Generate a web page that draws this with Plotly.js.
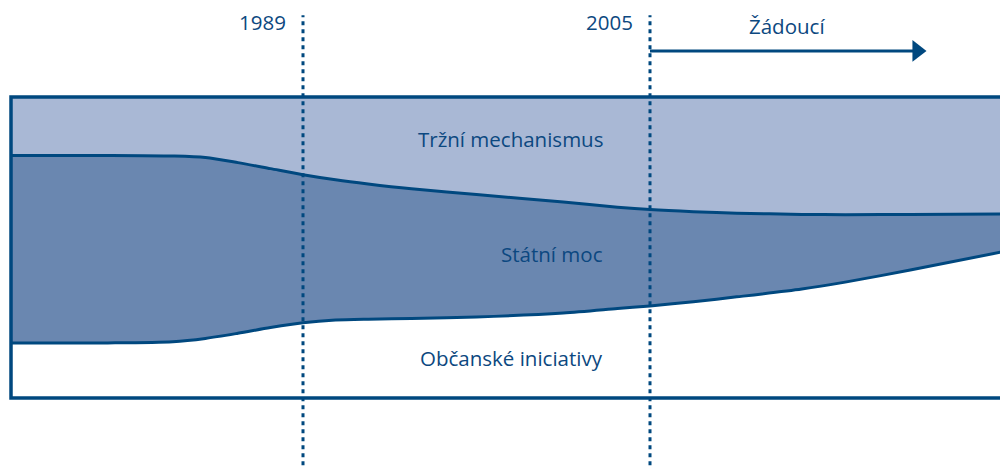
<!DOCTYPE html>
<html>
<head>
<meta charset="utf-8">
<script src="https://cdn.plot.ly/plotly-3.0.1.min.js"></script>
<style>
  html, body { margin: 0; padding: 0; background: #ffffff; }
  #chart { width: 1000px; height: 467px; }
</style>
</head>
<body>
<div id="chart"></div>
<script>
// ---- data (shares in % of the whole) ----
const years = [1975, 1980, 1983, 1984.5, 1986, 1987.5, 1989, 1990.5, 1992, 1994, 1997, 2001, 2003.5, 2005, 2007, 2009, 2012, 2014, 2017, 2021.2];
// boundary between "Tržní mechanismus" (above) and "Státní moc" (below)
const upperBoundary = [80.6, 80.6, 80.4, 79.9, 78.2, 76.2, 74.2, 72.5, 71.1, 69.5, 67.6, 65.1, 63.4, 62.6, 61.9, 61.4, 61.0, 60.9, 61.0, 61.1];
// boundary between "Státní moc" (above) and "Občanské iniciativy" (below)
const lowerBoundary = [18.3, 18.3, 18.7, 19.8, 21.5, 23.4, 25.0, 25.9, 26.2, 26.4, 26.9, 28.2, 29.7, 30.6, 32.0, 33.6, 36.2, 38.5, 42.5, 48.5];
const topValue = years.map(() => 100);

const markerYears = [1989, 2005];
const markerLabels = ['1989', '2005'];
const regionLabels = ['Tržní mechanismus', 'Státní moc', 'Občanské iniciativy'];
const desiredLabel = 'Žádoucí';
const desiredFrom = 2005;
const desiredTo = 2017.2;

// ---- styles ----
const NAVY = '#00487f';
const TEXT = '#0c4880';
const LIGHT = '#a9b8d5';
const MID = '#6a87b0';
const FONT = '"Open Sans", "Noto Sans", sans-serif';
const FS = 20.5;
const FW = 500;

const traces = [
  { x: years, y: lowerBoundary, mode: 'lines', line: { width: 0, shape: 'spline', smoothing: 0.8 }, hoverinfo: 'skip', showlegend: false },
  { x: years, y: upperBoundary, mode: 'lines', fill: 'tonexty', fillcolor: MID, line: { width: 0, shape: 'spline', smoothing: 0.8 }, hoverinfo: 'skip', showlegend: false },
  { x: years, y: topValue, mode: 'lines', fill: 'tonexty', fillcolor: LIGHT, line: { width: 0 }, hoverinfo: 'skip', showlegend: false },
  { x: years, y: lowerBoundary, mode: 'lines', line: { width: 3, color: NAVY, shape: 'spline', smoothing: 0.8 }, hoverinfo: 'skip', showlegend: false },
  { x: years, y: upperBoundary, mode: 'lines', line: { width: 3, color: NAVY, shape: 'spline', smoothing: 0.8 }, hoverinfo: 'skip', showlegend: false }
];

const shapes = [];
// frame (left, top, bottom; right side runs off the page)
shapes.push({ type: 'rect', xref: 'paper', yref: 'paper', x0: 0, x1: 1.05, y0: 0, y1: 1, line: { color: NAVY, width: 3.5 }, fillcolor: 'rgba(0,0,0,0)', layer: 'above' });
// dotted year markers
markerYears.forEach(yr => {
  shapes.push({ type: 'line', xref: 'x', yref: 'paper', x0: yr, x1: yr, y0: -0.25, y1: 1.272, line: { color: NAVY, width: 3, dash: '4px,4px' }, layer: 'above' });
});
// "desired" arrow
const arrowY = 1.153;
shapes.push({ type: 'line', xref: 'x', yref: 'paper', x0: desiredFrom, x1: desiredTo, y0: arrowY, y1: arrowY, line: { color: NAVY, width: 3 } });
shapes.push({ type: 'path', xref: 'x', yref: 'paper',
  path: `M ${desiredTo - 0.1} ${arrowY + 0.036} L ${desiredTo + 0.55} ${arrowY} L ${desiredTo - 0.1} ${arrowY - 0.036} Z`,
  fillcolor: NAVY, line: { color: NAVY, width: 0 } });

const annotations = [];
markerYears.forEach((yr, i) => {
  annotations.push({ x: yr, xref: 'x', y: 1.249, yref: 'paper', text: markerLabels[i], showarrow: false, xanchor: 'right', yanchor: 'middle', xshift: -15, font: { family: FONT, size: FS, color: TEXT, weight: FW } });
});
annotations.push({ x: (desiredFrom + desiredTo) / 2 + 0.2, xref: 'x', y: 1.236, yref: 'paper', text: desiredLabel, showarrow: false, xanchor: 'center', yanchor: 'middle', font: { family: FONT, size: FS, color: TEXT, weight: FW } });
const labelYs = [0.860, 0.478, 0.133];
regionLabels.forEach((t, i) => {
  annotations.push({ x: 0.6006, xref: 'paper', y: labelYs[i], yref: 'paper', text: t, showarrow: false, xanchor: 'right', yanchor: 'middle', font: { family: FONT, size: FS, color: TEXT, weight: FW } });
});

const layout = {
  width: 1000, height: 467,
  margin: { l: 11, r: 0, t: 97, b: 69, pad: 0 },
  paper_bgcolor: '#ffffff', plot_bgcolor: '#ffffff',
  showlegend: false,
  xaxis: { range: [1975.536, 2021.138], showgrid: false, zeroline: false, showticklabels: false, showline: false, ticks: '', fixedrange: true },
  yaxis: { range: [0, 100], showgrid: false, zeroline: false, showticklabels: false, showline: false, ticks: '', fixedrange: true },
  shapes: shapes,
  annotations: annotations
};

Plotly.newPlot('chart', traces, layout, { displayModeBar: false, staticPlot: true });
</script>
</body>
</html>
